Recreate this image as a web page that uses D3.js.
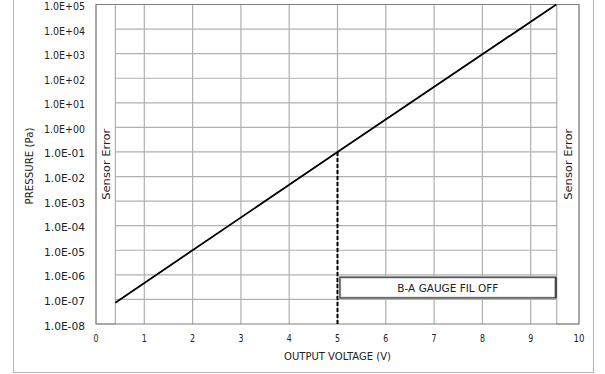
<!DOCTYPE html>
<html>
<head>
<meta charset="utf-8">
<script src="https://cdn.jsdelivr.net/npm/d3@7"></script>
<style>
  body { margin: 0; background: #fff; }
  svg { display: block; }
  text {
    font-family: "DejaVu Sans", "Liberation Sans", sans-serif;
    font-size: 11px;
    fill: #222;
  }
</style>
</head>
<body>
<div id="chart"></div>
<script>
// output voltage vs pressure
const voltage = [0.4, 5, 9.53]
const pressure = [7.4e-8, 1e-1, 1e5]

const xTicks = [0, 1, 2, 3, 4, 5, 6, 7, 8, 9, 10]
const yTicks = [1e-8, 1e-7, 1e-6, 1e-5, 1e-4, 1e-3, 1e-2, 1e-1, 1e0, 1e1, 1e2, 1e3, 1e4, 1e5]
const yTickLabels = ['1.0E-08', '1.0E-07', '1.0E-06', '1.0E-05', '1.0E-04', '1.0E-03', '1.0E-02',
  '1.0E-01', '1.0E+00', '1.0E+01', '1.0E+02', '1.0E+03', '1.0E+04', '1.0E+05']

const sensorError = [[0, 0.4], [9.54, 10]]
const marker = [5, 1e-1]
const gaugeBoxX = [5.05, 9.52]
const gaugeBoxY = [1.15e-7, 8e-7]

const width = 605
const height = 374
const charW = 6   // half-width gothic look: every glyph gets the same advance

const x = d3.scaleLinear().domain([0, 10]).range([96, 579])
const y = d3.scaleLog().domain([1e-8, 1e5]).range([324, 4.5])

const fit = (sel) => sel.each(function () {
  const n = this.textContent.length
  d3.select(this)
    .attr('textLength', n * charW - 1)
    .attr('lengthAdjust', 'spacingAndGlyphs')
})

const svg = d3.select('#chart').append('svg')
  .attr('width', width)
  .attr('height', height)

// outer frame
svg.append('rect')
  .attr('x', 13.5).attr('y', -1)
  .attr('width', 580).attr('height', 373.5)
  .attr('fill', 'none')
  .attr('stroke', '#b4b4b4')

// grid
svg.append('g')
  .selectAll('line')
  .data(xTicks.slice(1, -1))
  .join('line')
    .attr('x1', d => x(d)).attr('x2', d => x(d))
    .attr('y1', y(1e5)).attr('y2', y(1e-8))
    .attr('stroke', '#b0b0b0')
    .attr('stroke-width', 1.2)

svg.append('g')
  .selectAll('line')
  .data(yTicks.slice(1, -1))
  .join('line')
    .attr('x1', x(0)).attr('x2', x(10))
    .attr('y1', d => y(d)).attr('y2', d => y(d))
    .attr('stroke', '#b0b0b0')
    .attr('stroke-width', 1.2)

// sensor error bands
const bands = svg.append('g')
bands.selectAll('rect')
  .data(sensorError)
  .join('rect')
    .attr('x', d => x(d[0]))
    .attr('y', y(1e5))
    .attr('width', d => x(d[1]) - x(d[0]))
    .attr('height', y(1e-8) - y(1e5))
    .attr('fill', '#fff')
    .attr('stroke', '#a0a0a0')

bands.selectAll('text')
  .data(sensorError)
  .join('text')
    .attr('transform', d => `translate(${(x(d[0]) + x(d[1])) / 2 + 4.5},${(y(1e5) + y(1e-8)) / 2}) rotate(-90)`)
    .attr('text-anchor', 'middle')
    .text('Sensor Error')
    .call(fit)

// plot border
svg.append('rect')
  .attr('x', x(0)).attr('y', y(1e5))
  .attr('width', x(10) - x(0)).attr('height', y(1e-8) - y(1e5))
  .attr('fill', 'none')
  .attr('stroke', '#808080')

// dashed marker at 5 V
svg.append('line')
  .attr('x1', x(marker[0])).attr('x2', x(marker[0]))
  .attr('y1', y(marker[1])).attr('y2', y(1e-8))
  .attr('stroke', '#000')
  .attr('stroke-width', 2)
  .attr('stroke-dasharray', '4,2')

// gauge box
const bx0 = x(gaugeBoxX[0]), bx1 = x(gaugeBoxX[1])
const by0 = y(gaugeBoxY[1]), by1 = y(gaugeBoxY[0])
svg.append('rect')
  .attr('x', bx0).attr('y', by0)
  .attr('width', bx1 - bx0).attr('height', by1 - by0)
  .attr('fill', '#fff')
  .attr('stroke', '#bbb')
  .attr('stroke-width', 2.5)
svg.append('rect')
  .attr('x', bx0).attr('y', by0)
  .attr('width', bx1 - bx0).attr('height', by1 - by0)
  .attr('fill', 'none')
  .attr('stroke', '#333')
  .attr('stroke-width', 1)
svg.append('line')
  .attr('x1', bx1).attr('x2', bx1)
  .attr('y1', by0).attr('y2', by1)
  .attr('stroke', '#444')
  .attr('stroke-width', 2)
svg.append('text')
  .attr('x', (bx0 + bx1) / 2)
  .attr('y', (by0 + by1) / 2 + 4)
  .attr('text-anchor', 'middle')
  .text('B-A GAUGE FIL OFF')
  .call(fit)

// data line
const line = d3.line()
  .x((d, i) => x(voltage[i]))
  .y(d => y(d))
svg.append('path')
  .attr('d', line(pressure))
  .attr('fill', 'none')
  .attr('stroke', '#000')
  .attr('stroke-width', 1.8)

// axes labels
svg.append('g')
  .selectAll('text')
  .data(yTicks)
  .join('text')
    .attr('x', 85)
    .attr('y', d => y(d) + 5.5)
    .attr('text-anchor', 'end')
    .text((d, i) => yTickLabels[i])
    .call(fit)

svg.append('g')
  .selectAll('text')
  .data(xTicks)
  .join('text')
    .attr('x', d => x(d))
    .attr('y', 341.5)
    .attr('text-anchor', 'middle')
    .text(d => d)
    .call(fit)

svg.append('text')
  .attr('x', (x(0) + x(10)) / 2)
  .attr('y', 360)
  .attr('text-anchor', 'middle')
  .text('OUTPUT VOLTAGE (V)')
  .call(fit)

svg.append('text')
  .attr('transform', 'translate(33,166) rotate(-90)')
  .attr('text-anchor', 'middle')
  .text('PRESSURE (Pa)')
  .call(fit)
</script>
</body>
</html>
